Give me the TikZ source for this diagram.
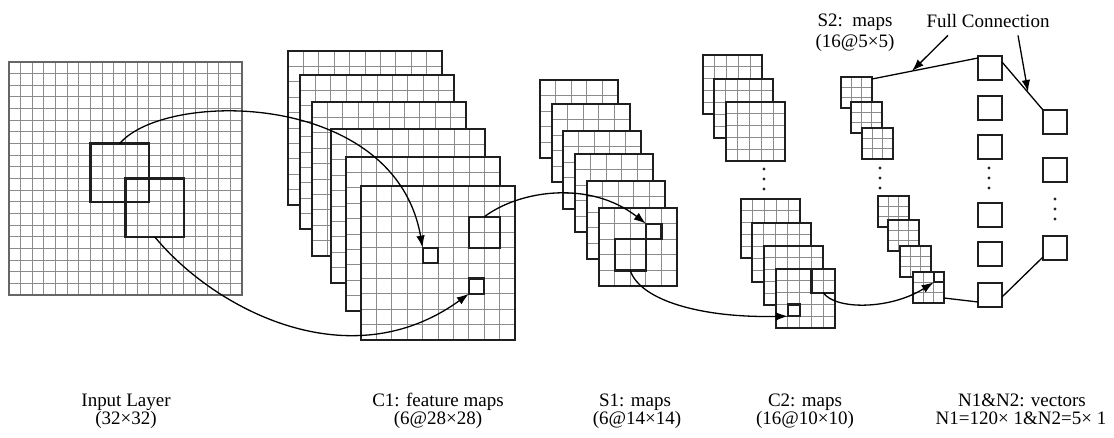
\documentclass[tikz,border=0pt]{standalone}
\usepackage{fontspec}
\setmainfont{Liberation Serif}
\usetikzlibrary{arrows.meta}
\newcommand\featmap[5]{% name, x-left, y-top, size, cells
  \node[fill=white, inner sep=0pt, outer sep=0pt, minimum size=#4pt] (#1) at ({#2+#4/2},{#3+#4/2}) {};
  \pgfmathtruncatemacro\featn{#5-1}
  \foreach \k in {1,...,\featn}{
    \draw[gridline] ({#2+\k*#4/#5},#3) -- ({#2+\k*#4/#5},{#3+#4});
    \draw[gridline] (#2,{#3+\k*#4/#5}) -- ({#2+#4},{#3+\k*#4/#5});
  }
  \draw[mapborder] (#1.north west) rectangle (#1.south east);
}
\begin{document}
\begin{tikzpicture}[x=1pt,y=-1pt,
  gridline/.style={draw=black!45, line width=1pt},
  mapborder/.style={draw=black!88, line width=2.2pt},
  hbox/.style={draw=black!88, line width=2.2pt, inner sep=0pt, outer sep=0pt},
  conn/.style={draw=black, line width=1.3pt},
  arr/.style={conn, -{Latex[length=12pt,width=8.5pt]}},
  lbl/.style={font=\fontsize{19}{18}\selectfont, inner sep=0pt, anchor=base},
  unitbox/.style={draw=black!88, line width=2.2pt, fill=white, inner sep=0pt, outer sep=0pt, minimum size=24pt}
]
\useasboundingbox[fill=white] (0,0) rectangle (1114,437);

% ---------- input layer ----------
\node[fill=white, inner sep=0pt, outer sep=0pt, minimum size=233pt] (inp) at (125.5,178.5) {};
\foreach \k in {1,...,19}{
  \draw[gridline] ({9+\k*233/20},62) -- ({9+\k*233/20},295);
  \draw[gridline] (9,{62+\k*233/20}) -- (242,{62+\k*233/20});
}
\draw[draw=black!60, line width=1.5pt] (inp.north west) rectangle (inp.south east);
\node[hbox, minimum size=58.25pt] (in1) at (119.7,172.7) {};
\node[hbox, minimum size=58.25pt] (in2) at (154.6,207.6) {};

% ---------- C1 ----------
\featmap{c1a}{288}{51}{154}{10}
\featmap{c1b}{300}{75}{154}{10}
\featmap{c1c}{312}{102}{154}{10}
\featmap{c1d}{331}{129}{154}{10}
\featmap{c1e}{346}{157}{154}{10}
\featmap{c1f}{361}{186}{154}{10}
\node[hbox, minimum size=15.4pt] (c1s1) at (430.3,255.3) {};
\node[hbox, minimum size=15.4pt] (c1s2) at (476.5,286.1) {};
\node[hbox, minimum size=30.8pt] (c1big) at (484.2,232.2) {};

% ---------- S1 ----------
\featmap{s1a}{540}{80}{78}{5}
\featmap{s1b}{552}{104}{78}{5}
\featmap{s1c}{563}{131}{78}{5}
\featmap{s1d}{575}{154}{78}{5}
\featmap{s1e}{587}{181}{78}{5}
\featmap{s1f}{599}{208}{78}{5}
\node[hbox, minimum size=15.6pt] (s1small) at (653.6,231.4) {};
\node[hbox, minimum size=31.2pt] (s1big) at (630.2,254.8) {};

% ---------- C2 ----------
\featmap{c2a}{703}{55}{59}{5}
\featmap{c2b}{714}{79}{59}{5}
\featmap{c2c}{726}{102}{59}{5}
\fill[black!85] (764,169) circle (1.6) (764,179) circle (1.6) (764,189) circle (1.6);
\featmap{c2d}{741}{199}{59}{5}
\featmap{c2e}{752}{223}{59}{5}
\featmap{c2f}{764}{246}{59}{5}
\featmap{c2g}{776}{269}{59}{5}
\node[hbox, minimum size=11.8pt] (c2small) at (793.7,310.3) {};
\node[hbox, minimum size=23.6pt] (c2big) at (823.2,280.8) {};

% ---------- S2 ----------
\featmap{s2a}{841}{77}{31}{3}
\featmap{s2b}{851}{102}{31}{3}
\featmap{s2c}{862}{128}{31}{3}
\fill[black!85] (880,168) circle (1.6) (880,178) circle (1.6) (880,188) circle (1.6);
\featmap{s2d}{878}{196}{31}{3}
\featmap{s2e}{888}{220}{31}{3}
\featmap{s2f}{900}{246}{31}{3}
\featmap{s2g}{913}{272}{31}{3}
\node[hbox, minimum size=10.33pt] (s2small) at (938.8,277.2) {};

% ---------- N1 / N2 ----------
\node[unitbox] (n1a) at (990,68) {};
\node[unitbox] (n1b) at (990,108) {};
\node[unitbox] (n1c) at (990,147) {};
\fill[black!85] (989,168) circle (1.6) (989,178) circle (1.6) (989,188) circle (1.6);
\node[unitbox] (n1d) at (990,215) {};
\node[unitbox] (n1e) at (990,254) {};
\node[unitbox] (n1f) at (990,295) {};
\node[unitbox] (n2a) at (1055,122) {};
\node[unitbox] (n2b) at (1055,170) {};
\fill[black!85] (1055,199) circle (1.6) (1055,209) circle (1.6) (1055,219) circle (1.6);
\node[unitbox] (n2c) at (1055,248) {};

% ---------- connectors ----------
\draw[arr] (in1.north) .. controls (165,90) and (395,90) .. (c1s1.north west);
\draw[arr] (in2.south) .. controls (215,310) and (350,380) .. (c1s2.south west);
\draw[arr] (c1big.north) .. controls (520,190) and (590,180) .. (s1small.north west);
\draw[arr] (s1big.south) .. controls (640,300) and (700,318) .. (c2small.south west);
\draw[arr] (c2big.south) .. controls (835,310) and (890,310) .. (s2small.south west);

\draw[conn] ([yshift=-2pt]s2a.north east) -- ([yshift=-2pt]n1a.north west);
\draw[conn] ([yshift=-6pt]n1a.north east) -- (n2a.north west);
\draw[conn] ([yshift=5pt]s2g.south east) -- ([yshift=5pt]n1f.south west);
\draw[conn] ([yshift=10pt]n1f.south east) -- ([yshift=3pt]n2c.south west);

% ---------- labels ----------
\node[lbl] (fc) at (988,27) {Full Connection};
\coordinate (fa1) at (912,71);
\coordinate (fa2) at (1028,92);
\draw[arr] ([xshift=-40pt,yshift=-8pt]fc.south) -- (fa1);
\draw[arr] ([xshift=30pt,yshift=-8pt]fc.south) -- (fa2);

\node[lbl] (s2l1) at (855,26) {S2:\ \ maps};
\node[lbl] (s2l2) at (855,47) {(16@5×5)};

\node[lbl] (inl1) at (126,406) {Input Layer};
\node[lbl] (inl2) at (126,424) {(32×32)};
\node[lbl] (c1l1) at (438,406) {C1: feature maps};
\node[lbl] (c1l2) at (438,424) {(6@28×28)};
\node[lbl] (s1l1) at (635,406) {S1: maps};
\node[lbl] (s1l2) at (637,424) {(6@14×14)};
\node[lbl] (c2l1) at (805,406) {C2: maps};
\node[lbl] (c2l2) at (805,424) {(16@10×10)};
\node[lbl] (nl1) at (1022,406) {N1\&N2: vectors};
\node[lbl] (nl2) at (1021,424) {N1=120× 1\&N2=5× 1};
\end{tikzpicture}
\end{document}
